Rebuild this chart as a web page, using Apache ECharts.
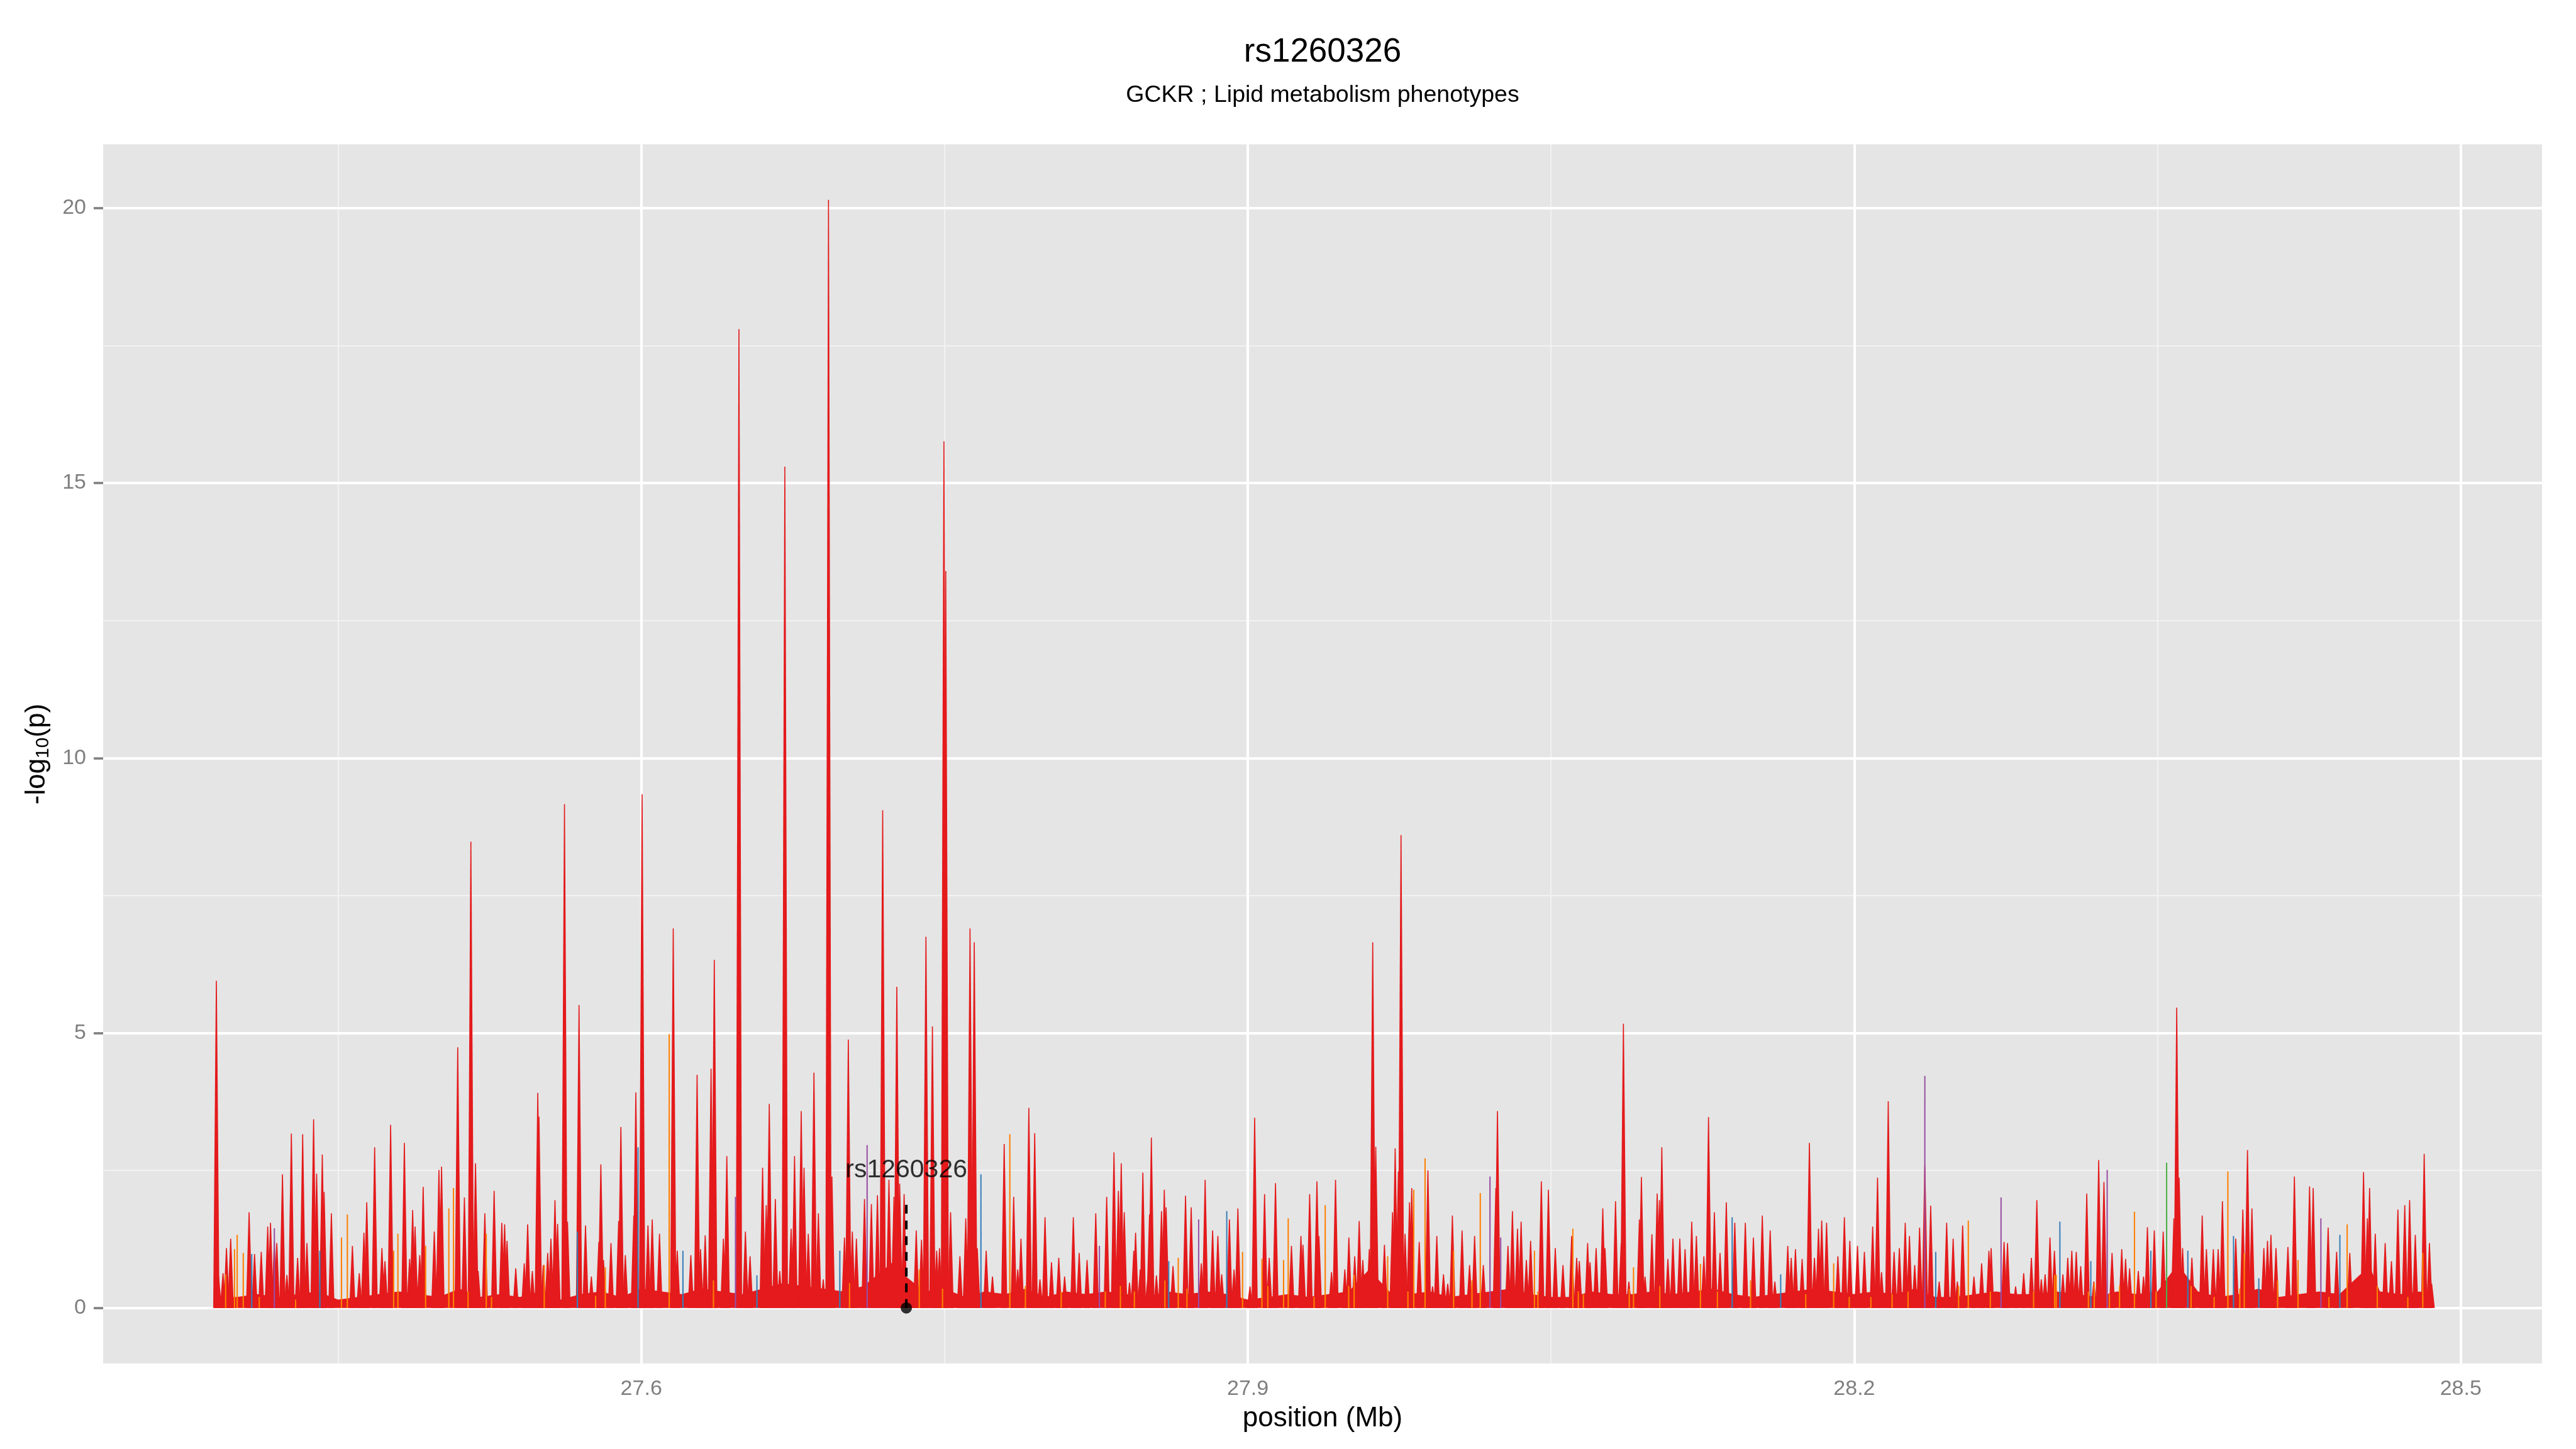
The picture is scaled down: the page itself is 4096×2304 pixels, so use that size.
<!DOCTYPE html>
<html>
<head>
<meta charset="utf-8">
<script src="https://cdn.jsdelivr.net/npm/echarts@6.0.0/dist/echarts.min.js"></script>
<style>
  html, body { margin: 0; padding: 0; background: #fff; }
  #chart { width: 4096px; height: 2304px; }
</style>
</head>
<body>
<div id="chart"></div>
<script>
// axis layout (Mb / -log10 p)
const xTicks = [27.6, 27.9, 28.2, 28.5]
const xMinorTicks = [27.45, 27.75, 28.05, 28.35]
const yTicks = [0, 5, 10, 15, 20]
const yMinorTicks = [2.5, 7.5, 12.5, 17.5]
const xRange = [27.3338, 28.5402]
const yRange = [-1.01, 21.16]

// lead SNP annotation
const leadSnp = { name: 'rs1260326', pos: 27.7311, stemTop: 2.0, labelAt: 2.51 }

// solid red band under the spikes, [position, -log10 p]
const redFloor = [
  [27.3886, 0.15], [27.39, 0.2], [27.40, 0.2], [27.41, 0.25], [27.42, 0.2], [27.43, 0.25], [27.44, 0.3],
  [27.45, 0.15], [27.46, 0.2], [27.47, 0.25], [27.48, 0.3], [27.49, 0.25], [27.50, 0.2], [27.51, 0.35],
  [27.52, 0.2], [27.53, 0.25], [27.54, 0.2], [27.55, 0.3], [27.56, 0.15], [27.57, 0.25], [27.58, 0.3],
  [27.59, 0.2], [27.60, 0.35], [27.61, 0.3], [27.62, 0.25], [27.63, 0.35], [27.64, 0.3], [27.65, 0.25],
  [27.66, 0.35], [27.67, 0.45], [27.68, 0.4], [27.69, 0.35], [27.70, 0.3], [27.71, 0.4], [27.72, 0.7],
  [27.725, 0.85], [27.73, 0.6], [27.74, 0.3], [27.75, 0.35], [27.76, 0.2], [27.77, 0.3], [27.78, 0.25],
  [27.79, 0.35], [27.80, 0.2], [27.81, 0.3], [27.82, 0.25], [27.83, 0.3], [27.84, 0.25], [27.85, 0.2],
  [27.86, 0.3], [27.87, 0.25], [27.88, 0.3], [27.89, 0.25], [27.90, 0.15], [27.91, 0.2], [27.92, 0.25],
  [27.93, 0.2], [27.94, 0.25], [27.95, 0.3], [27.96, 0.7], [27.97, 0.3], [27.98, 0.25], [27.99, 0.3],
  [28.00, 0.2], [28.01, 0.25], [28.02, 0.3], [28.03, 0.35], [28.04, 0.25], [28.05, 0.2], [28.06, 0.2],
  [28.07, 0.3], [28.08, 0.25], [28.09, 0.25], [28.10, 0.3], [28.11, 0.25], [28.12, 0.3], [28.13, 0.35],
  [28.14, 0.25], [28.15, 0.2], [28.16, 0.25], [28.17, 0.3], [28.18, 0.35], [28.19, 0.3], [28.20, 0.25],
  [28.21, 0.3], [28.22, 0.25], [28.23, 0.35], [28.24, 0.2], [28.25, 0.2], [28.26, 0.25], [28.27, 0.3],
  [28.28, 0.25], [28.29, 0.25], [28.30, 0.3], [28.31, 0.25], [28.32, 0.2], [28.33, 0.3], [28.34, 0.25],
  [28.35, 0.3], [28.36, 0.8], [28.37, 0.3], [28.38, 0.2], [28.39, 0.25], [28.40, 0.35], [28.41, 0.2],
  [28.42, 0.25], [28.43, 0.3], [28.44, 0.25], [28.45, 0.6], [28.455, 0.75], [28.46, 0.3], [28.47, 0.25],
  [28.48, 0.3], [28.4858, 0.15]
]

// main phenotype (red), [position, -log10 p]
const redSnps = [
  [27.3898, 5.95], [27.3909, 0.57], [27.3931, 0.63], [27.3948, 1.09], [27.3969, 1.26], [27.4060, 1.74],
  [27.4087, 0.98], [27.4120, 1.02], [27.4152, 1.48], [27.4166, 1.55], [27.4185, 1.2], [27.4197, 1.18],
  [27.4225, 2.43], [27.4247, 0.6], [27.4269, 3.17], [27.4300, 0.91], [27.4325, 3.16], [27.4346, 1.18],
  [27.4379, 3.43], [27.4394, 2.44], [27.4422, 2.79], [27.4431, 2.11], [27.4467, 1.72], [27.4571, 1.13],
  [27.4605, 0.63], [27.4628, 1.37], [27.4642, 1.92], [27.4681, 2.92], [27.4717, 1.09], [27.4732, 0.85],
  [27.4760, 3.33], [27.4828, 3.0], [27.4854, 0.89], [27.4869, 1.78], [27.4881, 1.48], [27.4904, 0.96],
  [27.4921, 2.2], [27.4976, 1.39], [27.4999, 2.51], [27.5012, 2.57], [27.5092, 4.74], [27.5125, 2.01],
  [27.5157, 8.48], [27.5180, 2.63], [27.5193, 0.67], [27.5226, 1.72], [27.5272, 2.13], [27.5310, 1.55],
  [27.5324, 1.52], [27.5336, 1.22], [27.5379, 0.72], [27.5421, 0.81], [27.5438, 1.52], [27.5461, 0.67],
  [27.5488, 3.91], [27.5494, 3.48], [27.5515, 0.78], [27.5537, 1.0], [27.5553, 1.26], [27.5573, 1.96],
  [27.5586, 1.53], [27.5620, 9.16], [27.5635, 1.57], [27.5692, 5.51], [27.5724, 1.5], [27.5753, 0.57],
  [27.5790, 1.2], [27.5800, 2.61], [27.5813, 0.87], [27.5850, 1.18], [27.5888, 1.58], [27.5899, 3.29],
  [27.5921, 0.96], [27.5963, 1.68], [27.5973, 3.92], [27.6004, 9.34], [27.6033, 1.5], [27.6054, 1.61],
  [27.6090, 1.35],
  [27.6158, 6.9], [27.6178, 1.04], [27.6245, 0.96], [27.6276, 4.24], [27.6293, 1.07], [27.6316, 1.32],
  [27.6345, 4.35], [27.6361, 6.33], [27.6406, 1.26], [27.6423, 2.76], [27.6483, 17.8], [27.6515, 1.39],
  [27.6538, 0.94], [27.6600, 2.55], [27.6618, 1.87], [27.6633, 3.71], [27.6663, 1.98], [27.6685, 0.67],
  [27.6710, 15.3], [27.6741, 1.44], [27.6758, 2.76], [27.6791, 3.58], [27.6805, 2.55], [27.6826, 1.35],
  [27.6854, 4.28], [27.6876, 1.72], [27.6900, 0.52], [27.6926, 20.15], [27.6943, 2.39], [27.7005, 1.28],
  [27.7024, 4.88], [27.7044, 1.39], [27.7064, 1.26], [27.7104, 1.98], [27.7138, 1.89], [27.7168, 2.05],
  [27.7194, 9.05], [27.7225, 2.33], [27.7250, 2.02], [27.7264, 5.84], [27.7278, 2.26], [27.7300, 2.07],
  [27.7339, 0.44], [27.7360, 1.41], [27.7386, 1.24], [27.7408, 6.75], [27.7440, 5.12], [27.7461, 1.04],
  [27.7475, 1.09], [27.7497, 15.76], [27.7506, 13.4], [27.7530, 1.74], [27.7576, 0.94], [27.7605, 1.63],
  [27.7626, 6.9], [27.7647, 6.65], [27.7662, 1.09], [27.7706, 1.04], [27.7737, 0.57], [27.7795, 2.98],
  [27.7842, 2.02], [27.7862, 0.70], [27.7878, 1.26], [27.7917, 3.64], [27.7946, 3.18], [27.7972, 0.52],
  [27.7997, 1.65], [27.8029, 0.83], [27.8065, 0.91], [27.8094, 0.57], [27.8137, 1.65], [27.8166, 1.0],
  [27.8205, 0.87], [27.8248, 1.72], [27.8302, 2.02], [27.8338, 2.83],
  [27.8360, 2.13], [27.8374, 2.63], [27.8389, 1.74], [27.8415, 0.46], [27.8436, 1.04], [27.8445, 1.37],
  [27.8468, 0.70], [27.8481, 2.46], [27.8505, 0.52], [27.8514, 1.7], [27.8523, 3.10], [27.8548, 0.59],
  [27.8573, 1.76], [27.8587, 2.15], [27.8596, 1.83], [27.8630, 0.76], [27.8692, 2.04], [27.8720, 1.83],
  [27.8770, 0.81], [27.8789, 2.33], [27.8826, 1.41], [27.8852, 1.31], [27.8871, 0.61], [27.8909, 1.61],
  [27.8932, 0.70], [27.8951, 1.81], [27.9011, 0.39], [27.9034, 3.46], [27.9083, 2.07], [27.9106, 0.91],
  [27.9137, 2.27], [27.9216, 1.13], [27.9263, 1.31], [27.9273, 1.15], [27.9306, 2.07], [27.9342, 2.3],
  [27.9352, 1.31], [27.9414, 0.65], [27.9434, 2.33], [27.9480, 0.70], [27.9500, 1.28], [27.9529, 0.94],
  [27.9551, 1.58], [27.9569, 0.87], [27.9601, 1.07], [27.9618, 6.65], [27.9633, 2.93], [27.9676, 1.15],
  [27.9716, 1.74], [27.9729, 2.9], [27.9745, 2.48], [27.9758, 8.6], [27.9778, 1.35], [27.9800, 1.92],
  [27.9811, 2.18], [27.9848, 1.2], [27.9891, 2.5], [27.9914, 0.39], [27.9935, 1.31], [27.9968, 0.61],
  [27.9989, 0.44], [28.0012, 1.68], [28.0060, 1.41], [28.0097, 0.78], [28.0122, 1.31], [28.0165, 0.78],
  [28.0227, 2.18], [28.0235, 3.58], [28.0287, 1.13], [28.0309, 1.76], [28.0334, 1.44], [28.0352, 1.57],
  [28.0378, 0.87], [28.0399, 1.22], [28.0452, 2.3], [28.0487, 2.15], [28.0521, 1.09], [28.0559, 0.78],
  [28.0602, 1.31],
  [28.0627, 0.91], [28.0640, 0.85], [28.0681, 1.18], [28.0693, 0.83], [28.0723, 1.09], [28.0756, 1.81],
  [28.0767, 1.09], [28.0819, 1.94], [28.0847, 1.18], [28.0858, 5.17], [28.0885, 0.48], [28.0937, 1.61],
  [28.0947, 2.38], [28.0965, 0.57], [28.0999, 1.34], [28.1025, 2.08], [28.1036, 1.96], [28.1048, 2.92],
  [28.1078, 0.89], [28.1103, 1.26], [28.1137, 1.26], [28.1163, 1.07], [28.1196, 1.57], [28.1219, 1.31],
  [28.1256, 0.94], [28.1279, 3.47], [28.1308, 1.74], [28.1336, 1.0], [28.1367, 1.92], [28.1409, 1.55],
  [28.1461, 1.55], [28.1501, 1.28], [28.1545, 1.68], [28.1584, 1.41], [28.1607, 0.48], [28.1671, 1.13],
  [28.1688, 0.91], [28.1709, 1.07], [28.1742, 0.89], [28.1778, 3.0], [28.1803, 0.91], [28.1823, 1.44],
  [28.1839, 1.59], [28.1863, 1.55], [28.1919, 0.94], [28.1951, 1.65], [28.1978, 1.22], [28.2016, 1.13],
  [28.2050, 1.02], [28.2091, 1.48], [28.2115, 2.37], [28.2135, 0.65], [28.2168, 3.76], [28.2197, 1.02],
  [28.2223, 1.09], [28.2252, 1.55], [28.2273, 1.31], [28.2299, 0.78], [28.2323, 1.46], [28.2349, 2.6],
  [28.2378, 1.86], [28.2420, 0.48], [28.2457, 1.55], [28.2489, 1.26], [28.2510, 0.48], [28.2536, 1.5],
  [28.2592, 0.57], [28.2630, 0.81], [28.2666, 1.04], [28.2677, 1.09], [28.2741, 1.2], [28.2758, 1.18],
  [28.2798, 0.39], [28.2838, 0.63],
  [28.2876, 0.91], [28.2903, 1.96], [28.2925, 0.52], [28.2944, 0.61], [28.2968, 1.28], [28.2990, 1.04],
  [28.3032, 0.61], [28.3056, 0.91], [28.3076, 1.04], [28.3098, 1.02], [28.3120, 0.76], [28.3150, 2.08],
  [28.3185, 0.48], [28.3209, 2.69], [28.3235, 2.29], [28.3275, 1.0], [28.3323, 1.07], [28.3342, 0.89],
  [28.3362, 0.72], [28.3405, 0.67], [28.3431, 0.57], [28.3450, 1.47], [28.3484, 1.41], [28.3528, 1.39],
  [28.3581, 1.63], [28.3595, 5.46], [28.3607, 2.37], [28.3624, 1.09], [28.3670, 0.91], [28.3721, 1.68],
  [28.3742, 1.07], [28.3776, 1.07], [28.3800, 1.07], [28.3821, 1.94], [28.3887, 1.26], [28.3922, 1.79],
  [28.3945, 2.87], [28.3967, 1.81], [28.4026, 1.09], [28.4044, 1.22], [28.4061, 1.33], [28.4086, 1.09],
  [28.4145, 1.11], [28.4177, 2.39], [28.4252, 2.21], [28.4270, 2.18], [28.4344, 1.46], [28.4386, 1.02],
  [28.4451, 1.0], [28.4519, 2.47], [28.4538, 1.63], [28.4549, 2.18], [28.4577, 1.35], [28.4626, 1.18],
  [28.4657, 0.85], [28.4689, 1.79], [28.4723, 1.87], [28.4747, 1.96], [28.4775, 1.33], [28.4819, 2.8],
  [28.4845, 1.18], [28.4856, 0.44]
]

const orangeSnps = [
  [27.3944, 0.61], [27.3988, 1.07], [27.4001, 1.33], [27.4031, 1.0], [27.4110, 0.2], [27.4290, 0.15],
  [27.4517, 1.28], [27.4546, 1.70], [27.4775, 1.04], [27.4796, 1.35], [27.4933, 1.13], [27.5048, 1.81],
  [27.5071, 2.18], [27.5143, 0.3], [27.5233, 1.35], [27.5259, 0.2], [27.5520, 0.78], [27.5774, 0.22],
  [27.5822, 0.74], [27.6138, 4.98], [27.6357, 0.5], [27.7030, 0.45], [27.7375, 0.7], [27.7490, 0.35],
  [27.7823, 3.16], [27.7900, 0.4], [27.8077, 0.3], [27.8295, 0.3], [27.8370, 0.4], [27.8439, 0.3],
  [27.8590, 0.5], [27.8656, 0.91], [27.8699, 0.35], [27.8974, 1.02], [27.9070, 0.89], [27.9099, 0.4],
  [27.9177, 0.87], [27.9200, 1.63], [27.9328, 0.2], [27.9383, 1.87], [27.9499, 0.4], [27.9526, 0.6],
  [27.9692, 0.94], [27.9792, 0.3], [27.9821, 2.15], [27.9877, 2.72], [28.0018, 1.04], [28.0109, 0.5],
  [28.0150, 2.09], [28.0418, 1.04], [28.0435, 0.3], [28.0608, 1.44], [28.0635, 0.3], [28.0660, 0.25],
  [28.0887, 0.35], [28.0908, 0.74], [28.1038, 0.4], [28.1239, 0.8], [28.1323, 0.3], [28.1487, 0.5],
  [28.1760, 0.25], [28.1898, 0.81], [28.1975, 0.2], [28.2082, 0.2], [28.2187, 0.25], [28.2266, 0.3],
  [28.2516, 0.4], [28.2564, 1.59], [28.2673, 0.3], [28.2887, 0.3], [28.2991, 0.6], [28.2999, 0.6],
  [28.3158, 0.3], [28.3187, 0.45], [28.3262, 0.25], [28.3312, 0.4], [28.3386, 1.75], [28.3493, 0.3],
  [28.3666, 0.4], [28.3780, 0.2], [28.3848, 2.48], [28.3907, 0.35], [28.3929, 1.0], [28.4094, 0.5],
  [28.4195, 0.87], [28.4348, 0.2], [28.4438, 1.52], [28.4587, 0.4], [28.4738, 0.2], [28.4812, 1.0]
]

const blueSnps = [
  [27.4073, 0.98], [27.4410, 1.04], [27.5684, 1.39], [27.5984, 2.92], [27.6206, 1.04], [27.6572, 0.59],
  [27.6982, 1.04], [27.7680, 2.43], [27.8609, 0.85], [27.8896, 1.76], [28.1396, 1.65], [28.1636, 0.61],
  [28.2403, 1.02], [28.3017, 1.57], [28.3170, 0.85], [28.3467, 1.04], [28.3650, 1.04], [28.3876, 1.31],
  [28.4001, 0.54], [28.4402, 1.33]
]

const purpleSnps = [
  [27.4185, 1.45], [27.6466, 2.02], [27.7117, 2.96], [27.8266, 1.13], [27.8757, 1.61], [28.0198, 2.39],
  [28.0251, 1.28], [28.2349, 4.22], [28.2726, 2.01], [28.3251, 2.51], [28.4308, 1.63]
]

const greenSnps = [[28.3545, 2.64]]

const FONT = '"Liberation Sans", Arial, Helvetica, sans-serif'
const RED = '#E41A1C'

// one spike per SNP, from 0 up to its value
function spike(baseHalf, topHalf) {
  return function (params, api) {
    const x = api.value(0)
    const b = api.coord([x, 0])
    const t = api.coord([x, api.value(1)])
    return {
      type: 'polygon',
      shape: { points: [[b[0] - baseHalf, b[1]], [t[0] - topHalf, t[1]], [t[0] + topHalf, t[1]], [b[0] + baseHalf, b[1]]] },
      style: { fill: api.visual('color') },
    }
  }
}

function spikeSeries(name, data, color, baseHalf, topHalf, z, opacity) {
  return {
    name,
    type: 'custom',
    data,
    z,
    clip: true,
    silent: true,
    encode: { x: 0, y: 1 },
    itemStyle: { color, opacity },
    renderItem: spike(baseHalf, topHalf),
  }
}

const major = { color: '#FFFFFF', width: 4, type: 'solid' }
const minor = { color: '#F2F2F2', width: 2, type: 'solid' }

const chart = echarts.init(document.getElementById('chart'))
chart.setOption({
  animation: false,
  backgroundColor: '#FFFFFF',
  grid: { left: 164, right: 54, top: 229.5, bottom: 136, show: true, backgroundColor: '#E5E5E5', borderWidth: 0 },
  xAxis: {
    type: 'value',
    min: xRange[0],
    max: xRange[1],
    axisLine: { show: false },
    splitLine: { show: false },
    axisTick: { show: true, customValues: xTicks, length: 15, lineStyle: { color: '#7F7F7F', width: 3.6 } },
    axisLabel: { customValues: xTicks, margin: 24, color: '#7F7F7F', fontSize: 34, fontFamily: FONT, formatter: v => v.toFixed(1) },
  },
  yAxis: {
    type: 'value',
    min: yRange[0],
    max: yRange[1],
    axisLine: { show: false },
    splitLine: { show: false },
    axisTick: { show: true, customValues: yTicks, length: 15, lineStyle: { color: '#7F7F7F', width: 3.6 } },
    axisLabel: { customValues: yTicks, margin: 27, color: '#7F7F7F', fontSize: 34, fontFamily: FONT, formatter: v => String(v) },
  },
  graphic: [
    { type: 'text', x: 2103, y: 83, style: { text: 'rs1260326', fontSize: 53, fontFamily: FONT, fill: '#000', align: 'center', verticalAlign: 'middle' } },
    { type: 'text', x: 2103, y: 152, style: { text: 'GCKR ; Lipid metabolism phenotypes', fontSize: 37.5, fontFamily: FONT, fill: '#000', align: 'center', verticalAlign: 'middle' } },
    { type: 'text', x: 2103, y: 2256, style: { text: 'position (Mb)', fontSize: 44, fontFamily: FONT, fill: '#000', align: 'center', verticalAlign: 'middle' } },
    {
      type: 'text', x: 59, y: 1199, rotation: Math.PI / 2,
      style: {
        text: '{m|-log}{s|10}{m|(p)}',
        align: 'center', verticalAlign: 'middle', fill: '#000', fontFamily: FONT,
        rich: {
          m: { fontSize: 44, lineHeight: 50, fontFamily: FONT, fill: '#000' },
          s: { fontSize: 30, lineHeight: 30, fontFamily: FONT, fill: '#000', verticalAlign: 'bottom' },
        },
      },
    },
  ],
  series: [
    {
      name: 'grid lines',
      type: 'line',
      data: [],
      z: 1,
      silent: true,
      markLine: {
        silent: true,
        z: 1,
        animation: false,
        symbol: ['none', 'none'],
        label: { show: false },
        emphasis: { disabled: true },
        data: [
          ...yMinorTicks.map(v => ({ yAxis: v, lineStyle: minor })),
          ...xMinorTicks.map(v => ({ xAxis: v, lineStyle: minor })),
          ...yTicks.map(v => ({ yAxis: v, lineStyle: major })),
          ...xTicks.map(v => ({ xAxis: v, lineStyle: major })),
        ],
      },
    },
    {
      name: 'red floor',
      type: 'line',
      data: redFloor,
      z: 3,
      silent: true,
      symbol: 'none',
      lineStyle: { width: 0 },
      areaStyle: { color: RED, opacity: 1 },
    },
    spikeSeries('red', redSnps, RED, 5, 0.8, 4, 0.93),
    spikeSeries('orange', orangeSnps, '#FF7F00', 1.1, 1.0, 5, 1),
    spikeSeries('blue', blueSnps, '#377EB8', 1.1, 1.0, 5, 1),
    spikeSeries('purple', purpleSnps, '#984EA3', 1.1, 1.0, 5, 1),
    spikeSeries('green', greenSnps, '#4DAF4A', 1.1, 1.0, 5, 1),
    {
      name: 'lead stem',
      type: 'line',
      data: [[leadSnp.pos, 0], [leadSnp.pos, leadSnp.stemTop]],
      z: 10,
      silent: true,
      symbol: 'none',
      lineStyle: { color: '#000', width: 4, type: [14, 11] },
    },
    {
      name: 'lead point',
      type: 'scatter',
      data: [[leadSnp.pos, 0]],
      z: 11,
      silent: true,
      symbolSize: 18,
      itemStyle: { color: '#000' },
    },
    {
      name: 'lead label',
      type: 'scatter',
      data: [[leadSnp.pos, leadSnp.labelAt]],
      z: 11,
      silent: true,
      symbolSize: 0,
      label: { show: true, position: 'inside', formatter: leadSnp.name, fontSize: 41, fontFamily: FONT, color: '#000' },
    },
  ],
})
</script>
</body>
</html>
